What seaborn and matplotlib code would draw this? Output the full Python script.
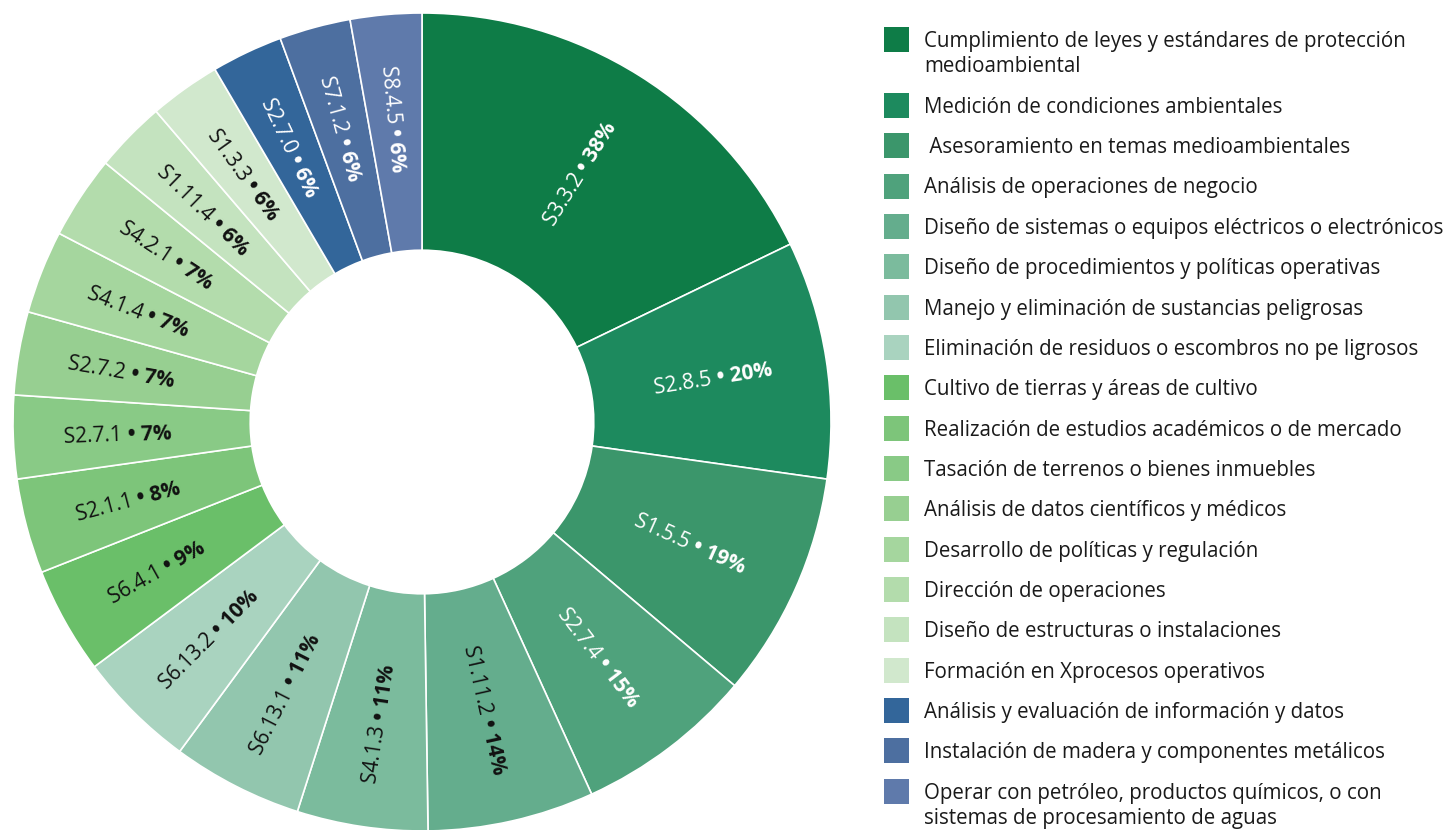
import matplotlib
matplotlib.use("Agg")
import matplotlib.pyplot as plt
import seaborn as sns
import numpy as np
from matplotlib.patches import Rectangle

# ---------------- data ----------------
codes = ["S3.3.2", "S2.8.5", "S1.5.5", "S2.7.4", "S1.11.2", "S4.1.3", "S6.13.1",
         "S6.13.2", "S6.4.1", "S2.1.1", "S2.7.1", "S2.7.2", "S4.1.4", "S4.2.1",
         "S1.11.4", "S1.3.3", "S2.7.0", "S7.1.2", "S8.4.5"]
values = [38, 20, 19, 15, 14, 11, 11, 10, 9, 8, 7, 7, 7, 7, 6, 6, 6, 6, 6]
categories = [
    "Cumplimiento de leyes y estándares de protección\nmedioambiental",
    "Medición de condiciones ambientales",
    " Asesoramiento en temas medioambientales",
    "Análisis de operaciones de negocio",
    "Diseño de sistemas o equipos eléctricos o electrónicos",
    "Diseño de procedimientos y políticas operativas",
    "Manejo y eliminación de sustancias peligrosas",
    "Eliminación de residuos o escombros no pe ligrosos",
    "Cultivo de tierras y áreas de cultivo",
    "Realización de estudios académicos o de mercado",
    "Tasación de terrenos o bienes inmuebles",
    "Análisis de datos científicos y médicos",
    "Desarrollo de políticas y regulación",
    "Dirección de operaciones",
    "Diseño de estructuras o instalaciones",
    "Formación en Xprocesos operativos",
    "Análisis y evaluación de información y datos",
    "Instalación de madera y componentes metálicos",
    "Operar con petróleo, productos químicos, o con\nsistemas de procesamiento de aguas",
]

# ---------------- style ----------------
palette = ["#0e7c47", "#1d8a5e", "#3b966b", "#4fa27c", "#64ad8d", "#7bbb9d",
           "#92c6ae", "#a9d3bf", "#6abf69", "#7dc57a", "#89ca86", "#97cf91",
           "#a5d69e", "#b3dcac", "#c4e3bf", "#d1e8cd", "#33669a", "#4d6fa0",
           "#5f7aab"]
text_colors = ["white"] * 4 + ["#111111"] * 12 + ["white"] * 3

sns.set_theme(style="white")
plt.rcParams["font.family"] = ["Open Sans", "DejaVu Sans"]
colors = sns.color_palette(palette)

W, H = 1449, 830
fig = plt.figure(figsize=(W / 100, H / 100), dpi=100)
fig.patch.set_facecolor("white")

# donut axes: centre (422, 422) px from top-left, outer radius 409 px
cx, cy, R = 422, 422, 409
lim = 1.03
half = R * lim
ax = fig.add_axes([(cx - half) / W, (H - cy - half) / H, 2 * half / W, 2 * half / H])
wedges, _ = ax.pie(values, colors=colors, startangle=90, counterclock=False,
                   radius=1.0,
                   wedgeprops=dict(width=0.58, edgecolor="white", linewidth=1.2))
ax.set_xlim(-lim, lim)
ax.set_ylim(-lim, lim)
ax.set_aspect("equal")
ax.axis("off")

# ---------------- slice labels ----------------
renderer = fig.canvas.get_renderer()
lab_fs = 15
total = sum(values)
cum = 0.0
r_out, r_in = 0.72, 0.745
for code, v, tc in zip(codes, values, text_colors):
    mid = cum + v / 2
    cum += v
    theta = np.deg2rad(90 - 360 * mid / total)
    rot = np.rad2deg(theta)
    r_lab = r_out
    if np.cos(theta) < -1e-9:
        rot += 180
        r_lab = r_in
    rot = (rot + 180) % 360 - 180
    part_a = f"{code} "
    part_b = f"• {v}%"
    ta = ax.text(0, 0, part_a, fontsize=lab_fs, fontweight="normal")
    tb = ax.text(0, 0, part_b, fontsize=lab_fs, fontweight="bold")
    wa = ta.get_window_extent(renderer).width
    wb = tb.get_window_extent(renderer).width
    ta.remove(); tb.remove()
    P = ax.transData.transform((r_lab * np.cos(theta), r_lab * np.sin(theta)))
    u = np.array([np.cos(np.deg2rad(rot)), np.sin(np.deg2rad(rot))])
    start = P - u * (wa + wb) / 2
    inv = ax.transData.inverted()
    pa = inv.transform(start)
    pb = inv.transform(start + u * wa)
    ax.text(pa[0], pa[1], part_a, fontsize=lab_fs, color=tc, rotation=rot,
            rotation_mode="anchor", ha="left", va="center_baseline")
    ax.text(pb[0], pb[1], part_b, fontsize=lab_fs, color=tc, rotation=rot,
            fontweight="bold", rotation_mode="anchor", ha="left", va="center_baseline")

# ---------------- legend ----------------
leg_fs = 14.8
fs_px = leg_fs * 100 / 72
sq = 25
x_sq, x_txt = 884, 924
y_c = 39.5
row_gap, line_gap = 40.35, 25.5
for cat, col in zip(categories, colors):
    lines = cat.split("\n")
    fig.add_artist(Rectangle(((x_sq) / W, (H - y_c - sq / 2) / H), sq / W, sq / H,
                             transform=fig.transFigure, facecolor=col,
                             edgecolor="none"))
    for k, line in enumerate(lines):
        yb = y_c + k * line_gap + 0.36 * fs_px
        fig.text(x_txt / W, (H - yb) / H, line, fontsize=leg_fs, color="#1a1a1a",
                 ha="left", va="baseline")
    y_c += row_gap + line_gap * (len(lines) - 1)

fig.savefig("out.png", dpi=100, facecolor="white")
